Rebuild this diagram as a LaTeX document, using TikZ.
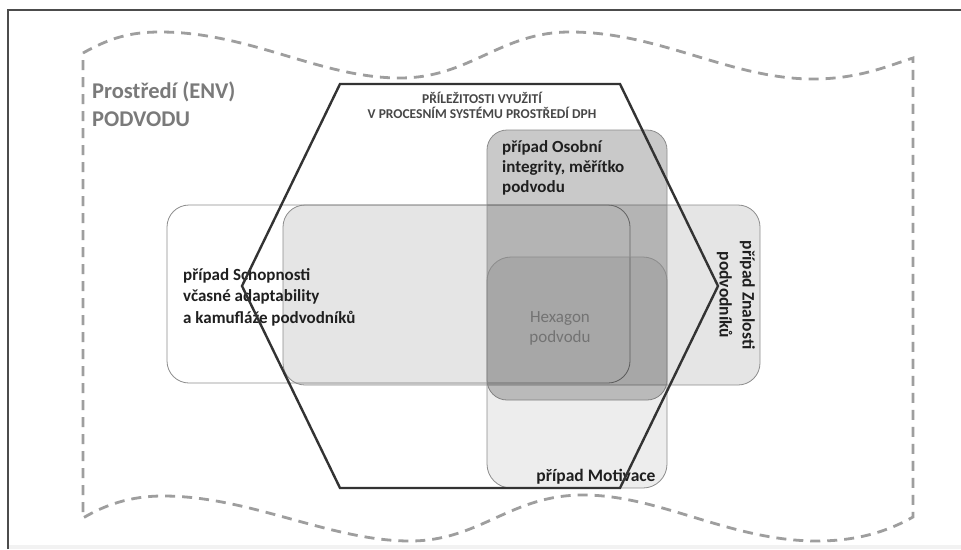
\documentclass[tikz,border=0pt]{standalone}
\usepackage{fontspec}
\setmainfont{Carlito}
\begin{document}
\begin{tikzpicture}[x=1pt,y=-1pt,
  lab/.style={font=\fontsize{17.5}{21}\selectfont\bfseries, text=black!88, align=left, inner sep=0pt},
  rbox/.style={rounded corners=22pt, draw=black!45, line width=0.8pt, inner sep=0pt, outer sep=0pt, anchor=north west},
  envlab/.style={font=\fontsize{22.5}{28}\selectfont\bfseries, text=black!52, align=left, inner sep=0pt},
  hextitle/.style={font=\fontsize{13.5}{15}\selectfont\bfseries, text=black!72, align=center, inner sep=0pt},
  wave/.style={draw=black!38, line width=2.8pt, dash pattern=on 10pt off 7pt},
  hexline/.style={draw=black!80, line width=2.4pt, line join=miter},
]
\useasboundingbox (0,0) rectangle (961,549);
\fill[white] (0,0) rectangle (961,549);
\fill[black!5] (8,545) rectangle (961,549);
% frame
\draw[black!70, line width=1.5pt] (8,549) -- (8,10) -- (961,10);
% environment wave
\draw[wave] (83,53) .. controls (110,38) and (130,32) .. (160,32)
  .. controls (250,32) and (320,78) .. (400,78)
  .. controls (470,78) and (500,32) .. (570,32)
  .. controls (660,32) and (730,79) .. (813,79)
  .. controls (860,79) and (890,65) .. (913,58)
  -- (913,517)
  .. controls (890,530) and (860,541) .. (817,541)
  .. controls (730,541) and (660,495) .. (583,495)
  .. controls (510,495) and (480,541) .. (410,541)
  .. controls (330,541) and (250,496) .. (163,496)
  .. controls (130,496) and (105,505) .. (83,518) -- cycle;
\node[envlab, anchor=west] (env) at (92,104) {Prostředí (ENV)\\PODVODU};
% boxes
\node[rbox, fill=white, minimum width=463pt, minimum height=178pt] (S) at (167,205) {};
\node[rbox, fill=black, fill opacity=0.10, minimum width=477pt, minimum height=180pt] (Z) at (283,205) {};
\node[rbox, fill=black, fill opacity=0.21, rounded corners=20pt, minimum width=180pt, minimum height=270pt] (O) at (487,130) {};
\node[rbox, fill=black, fill opacity=0.07, rounded corners=24pt, minimum width=180pt, minimum height=231pt] (M) at (487,257) {};
% labels
\node[hextitle] (ht) at (482,105.5) {PŘÍLEŽITOSTI VYUŽITÍ\\V PROCESNÍM SYSTÉMU PROSTŘEDÍ DPH};
\node[lab, anchor=west, font=\fontsize{17}{20}\selectfont\bfseries] (Ot) at (502,168) {případ Osobní\\integrity, měřítko\\podvodu};
\node[lab, anchor=west, font=\fontsize{17}{21.5}\selectfont\bfseries] (St) at (183,297) {případ Schopnosti\\včasné adaptability\\a kamufláže podvodníků};
\node[lab, align=center, rotate=-90, font=\fontsize{17.5}{23}\selectfont\bfseries] (Zt) at (736,295) {případ Znalosti\\podvodníků};
\node[lab] (Mt) at (596,477) {případ Motivace};
\node[font=\fontsize{17}{20}\selectfont, text=black!55, align=center, inner sep=0pt] (H) at (560,328) {Hexagon\\podvodu};
% hexagon
\draw[hexline] (340,84) -- (620,84) -- (718,286) -- (620,488) -- (340,488) -- (242,286) -- cycle;
\end{tikzpicture}
\end{document}
